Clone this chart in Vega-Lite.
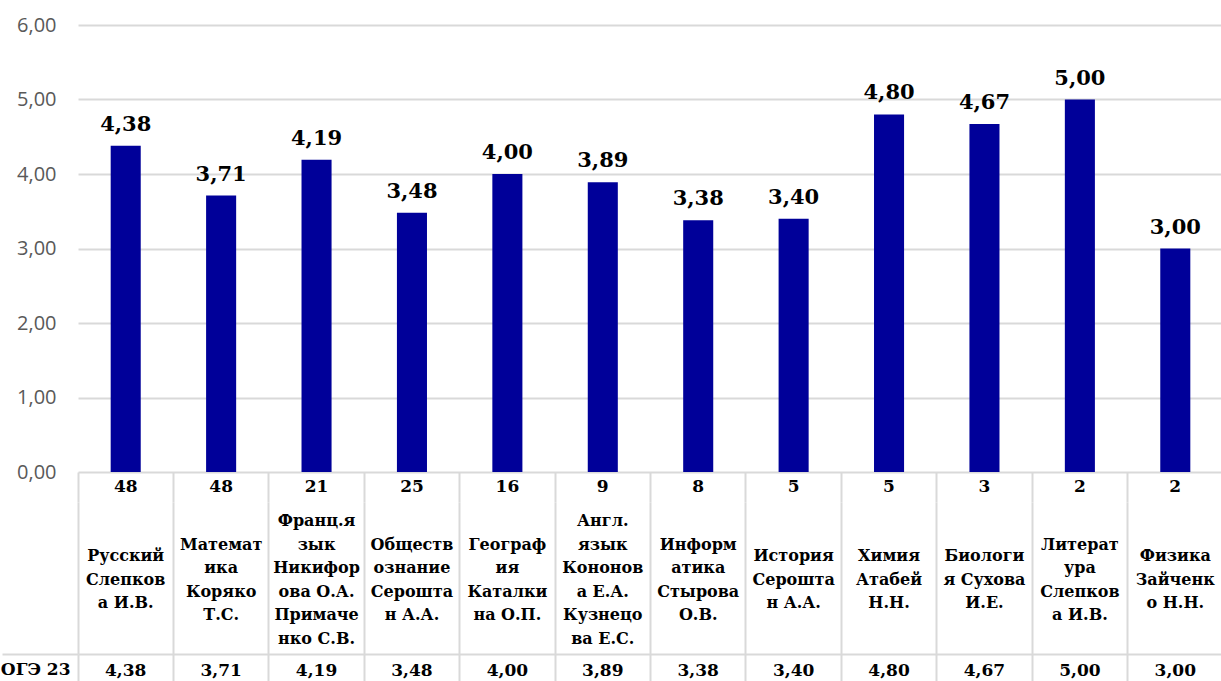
{
  "$schema": "https://vega.github.io/schema/vega-lite/v6.json",
  "padding": {"left": 0, "top": 15, "right": 0, "bottom": 0},
  "background": "white",
  "bounds": "flush",
  "spacing": 0,
  "config": {
    "view": {"stroke": null},
    "locale": {"number": {"decimal": ",", "thousands": "\u00a0", "grouping": [3], "currency": ["", ""]}}
  },
  "data": {
    "values": [
      {"subject": "Русский\nСлепков\nа И.В.", "count": 48, "avg": 4.38, "series": "ОГЭ 23"},
      {"subject": "Математ\nика\nКоряко\nТ.С.", "count": 48, "avg": 3.71, "series": "ОГЭ 23"},
      {"subject": "Франц.я\nзык\nНикифор\nова О.А.\nПримаче\nнко С.В.", "count": 21, "avg": 4.19, "series": "ОГЭ 23"},
      {"subject": "Обществ\nознание\nСерошта\nн А.А.", "count": 25, "avg": 3.48, "series": "ОГЭ 23"},
      {"subject": "Географ\nия\nКаталки\nна О.П.", "count": 16, "avg": 4.00, "series": "ОГЭ 23"},
      {"subject": "Англ.\nязык\nКононов\nа Е.А.\nКузнецо\nва Е.С.", "count": 9, "avg": 3.89, "series": "ОГЭ 23"},
      {"subject": "Информ\nатика\nСтырова\nО.В.", "count": 8, "avg": 3.38, "series": "ОГЭ 23"},
      {"subject": "История\nСерошта\nн А.А.", "count": 5, "avg": 3.40, "series": "ОГЭ 23"},
      {"subject": "Химия\nАтабей\nН.Н.", "count": 5, "avg": 4.80, "series": "ОГЭ 23"},
      {"subject": "Биологи\nя Сухова\nИ.Е.", "count": 3, "avg": 4.67, "series": "ОГЭ 23"},
      {"subject": "Литерат\nура\nСлепков\nа И.В.", "count": 2, "avg": 5.00, "series": "ОГЭ 23"},
      {"subject": "Физика\nЗайченк\nо Н.Н.", "count": 2, "avg": 3.00, "series": "ОГЭ 23"}
    ]
  },
  "resolve": {"scale": {"x": "independent", "y": "independent"}},
  "vconcat": [
    {
      "width": 1145,
      "height": 447,
      "encoding": {
        "x": {"field": "subject", "type": "nominal", "sort": null, "scale": {"type": "band", "paddingInner": 0, "paddingOuter": 0}, "axis": null},
        "y": {
          "field": "avg", "type": "quantitative",
          "scale": {"domain": [0, 6], "nice": false, "zero": true},
          "axis": {
            "title": null, "values": [0, 1, 2, 3, 4, 5, 6], "format": ".2f",
            "domain": false, "ticks": false, "labelPadding": 22,
            "labelFont": "Open Sans", "labelFontSize": 20, "labelColor": "#595959",
            "grid": true, "gridColor": "#d9d9d9", "gridWidth": 2
          }
        }
      },
      "layer": [
        {"mark": {"type": "bar", "color": "#000099", "width": {"band": 0.315}}},
        {
          "mark": {"type": "text", "font": "DejaVu Serif", "fontWeight": "bold", "fontSize": 21, "baseline": "bottom", "dy": -11, "color": "black"},
          "encoding": {"text": {"field": "avg", "type": "quantitative", "format": ".2f"}}
        }
      ]
    },
    {
      "width": 1145,
      "height": 30,
      "mark": {"type": "text", "font": "DejaVu Serif", "fontWeight": "bold", "fontSize": 17, "baseline": "middle", "color": "black"},
      "encoding": {
        "x": {"field": "subject", "type": "nominal", "sort": null, "scale": {"type": "band", "paddingInner": 0, "paddingOuter": 0},
          "axis": {"title": null, "labels": false, "ticks": false, "domain": false, "grid": true, "gridColor": "#d9d9d9", "gridWidth": 2, "bandPosition": 0}},
        "text": {"field": "count", "type": "quantitative"}
      }
    },
    {
      "width": 1145,
      "height": 152,
      "transform": [{"calculate": "length(split(datum.subject, '\\n'))", "as": "nlines"}],
      "mark": {"type": "text", "font": "DejaVu Serif", "fontWeight": "bold", "fontSize": 16, "baseline": "middle", "lineBreak": "\n", "lineHeight": 23.5, "color": "black", "dy": 2},
      "encoding": {
        "x": {"field": "subject", "type": "nominal", "sort": null, "scale": {"type": "band", "paddingInner": 0, "paddingOuter": 0},
          "axis": {"title": null, "labels": false, "ticks": false, "domain": true, "domainColor": "#d9d9d9", "domainWidth": 2, "grid": true, "gridColor": "#d9d9d9", "gridWidth": 2, "bandPosition": 0}},
        "y": {"field": "nlines", "type": "quantitative", "scale": {"domain": [-5.468, 7.468], "nice": false, "zero": false}, "axis": null},
        "text": {"field": "subject", "type": "nominal"}
      }
    },
    {
      "width": 1145,
      "height": 27,
      "mark": {"type": "text", "font": "DejaVu Serif", "fontWeight": "bold", "fontSize": 17, "baseline": "middle", "color": "black", "dy": 3},
      "encoding": {
        "x": {"field": "subject", "type": "nominal", "sort": null, "scale": {"type": "band", "paddingInner": 0, "paddingOuter": 0},
          "axis": {"title": null, "labels": false, "ticks": false, "domain": false, "grid": true, "gridColor": "#d9d9d9", "gridWidth": 2, "bandPosition": 0}},
        "y": {"field": "series", "type": "nominal", "scale": {"type": "band", "paddingInner": 0, "paddingOuter": 0},
          "axis": {"title": null, "domain": false, "ticks": true, "tickSize": 76, "tickColor": "#d9d9d9", "tickWidth": 2, "bandPosition": 0,
            "labelOffset": 2, "labelPadding": -68, "labelFont": "DejaVu Serif", "labelFontWeight": "bold", "labelFontSize": 17, "labelColor": "black", "labelAlign": "right", "labelBaseline": "middle"}},
        "text": {"field": "avg", "type": "quantitative", "format": ".2f"}
      }
    }
  ]
}
